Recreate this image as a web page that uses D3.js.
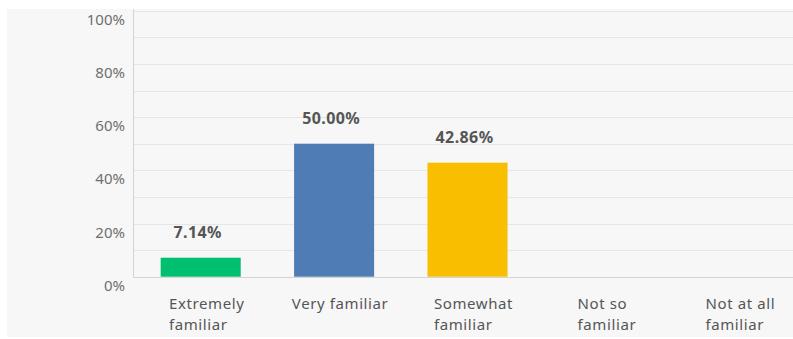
<!DOCTYPE html>
<html>
<head>
<meta charset="utf-8">
<script src="https://cdn.jsdelivr.net/npm/d3@7/dist/d3.min.js"></script>
<style>
  html, body { margin: 0; padding: 0; background: #ffffff; }
  svg { display: block; }
</style>
</head>
<body>
<svg id="chart" width="793" height="339"></svg>
<script>
// Survey answers and their share of responses
const categories = [
  ["Extremely", "familiar"],
  ["Very familiar"],
  ["Somewhat", "familiar"],
  ["Not so", "familiar"],
  ["Not at all", "familiar"]
];
const values = [7.14, 50.00, 42.86, 0, 0];
const barColors = ["#00bf6f", "#507cb6", "#f9be00", "#6bc8cd", "#d25f90"];
const yTicks = [0, 20, 40, 60, 80, 100];

const svg = d3.select("#chart");
const W = 793, H = 339;

// panel background
svg.append("rect")
  .attr("x", 7).attr("y", 9)
  .attr("width", W - 7).attr("height", H - 11)
  .attr("fill", "#f7f7f7");

const plot = { left: 133, right: 801, top: 10.7, bottom: 276.7 };

const x = d3.scaleBand()
  .domain(d3.range(categories.length))
  .range([plot.left + 1, plot.right])
  .paddingInner(0.4)
  .paddingOuter(0.2);

const y = d3.scaleLinear().domain([0, 100]).range([plot.bottom, plot.top]);

// gridlines every 10%
svg.append("g")
  .selectAll("line")
  .data(d3.range(10, 101, 10))
  .join("line")
  .attr("x1", plot.left).attr("x2", W)
  .attr("y1", d => Math.round(y(d)) + 0.5)
  .attr("y2", d => Math.round(y(d)) + 0.5)
  .attr("stroke", "#e6e6e6")
  .attr("stroke-width", 1);

// y axis labels
const yAxis = d3.axisLeft(y)
  .tickValues(yTicks)
  .tickFormat(d => d + "%")
  .tickSize(0)
  .tickPadding(8);
const gy = svg.append("g")
  .attr("transform", `translate(${plot.left},0)`)
  .call(yAxis);
gy.select(".domain").remove();
gy.selectAll("text")
  .attr("dy", "0.9em")
  .attr("x", -8)
  .attr("fill", "#6f6f6f")
  .style("font-family", "'Noto Sans', sans-serif")
  .style("font-size", "15px");

// bars
svg.append("g")
  .selectAll("rect")
  .data(values)
  .join("rect")
  .attr("x", (d, i) => x(i))
  .attr("y", d => y(d))
  .attr("width", x.bandwidth())
  .attr("height", d => y(0) - y(d))
  .attr("fill", (d, i) => barColors[i]);

// value labels above non-empty bars
svg.append("g")
  .selectAll("text")
  .data(values.map((v, i) => ({ v, i })).filter(d => d.v > 0))
  .join("text")
  .attr("x", d => x(d.i) + x.bandwidth() / 2 - 3)
  .attr("y", d => y(d.v) - 20)
  .attr("text-anchor", "middle")
  .attr("fill", "#555")
  .style("font-family", "'Noto Sans', sans-serif")
  .style("font-weight", "bold")
  .style("font-size", "16px")
  .style("letter-spacing", "0.4px")
  .text(d => d.v.toFixed(2) + "%");

// axis lines
svg.append("line")
  .attr("x1", plot.left + 0.5).attr("x2", plot.left + 0.5)
  .attr("y1", 9).attr("y2", Math.round(plot.bottom) + 1)
  .attr("stroke", "#d4d4d4");
svg.append("line")
  .attr("x1", plot.left).attr("x2", W)
  .attr("y1", Math.round(plot.bottom) + 0.5).attr("y2", Math.round(plot.bottom) + 0.5)
  .attr("stroke", "#d4d4d4");

// category labels: multi-line, left-aligned block centred under each bar
const catG = svg.append("g");
categories.forEach((lines, i) => {
  const t = catG.append("text")
    .attr("fill", "#555")
    .style("font-family", "'Noto Sans', sans-serif")
    .style("font-size", "15px")
    .style("letter-spacing", "0.6px");
  lines.forEach((ln, k) => {
    t.append("tspan")
      .attr("y", 309 + k * 21)
      .text(ln);
  });
  const widths = t.selectAll("tspan").nodes().map(n => n.getComputedTextLength());
  const bw = d3.max(widths);
  const left = x(i) + x.bandwidth() / 2 - bw / 2 + 6;
  t.selectAll("tspan").attr("x", left);
});
</script>
</body>
</html>
